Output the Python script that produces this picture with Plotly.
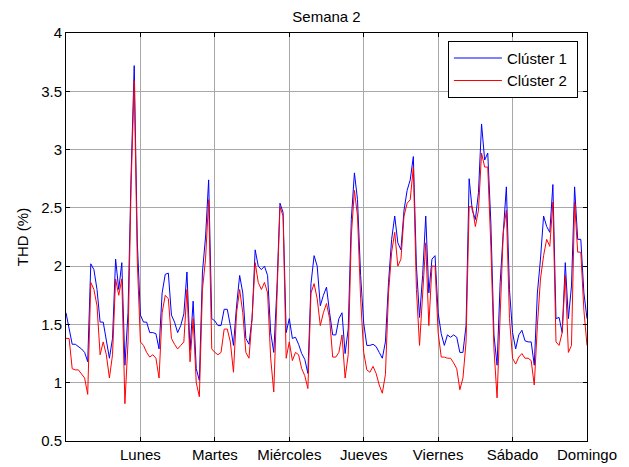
import numpy as np
import plotly.graph_objects as go

days = ["Lunes", "Martes", "Miércoles", "Jueves", "Viernes", "Sábado", "Domingo"]
day_ticks = [1, 2, 3, 4, 5, 6, 7]

cluster1 = [
    1.60, 1.45, 1.33, 1.33, 1.31, 1.29, 1.26, 1.18, 2.02, 1.97,
    1.80, 1.52, 1.52, 1.35, 1.21, 1.38, 2.06, 1.80, 2.03, 1.15,
    1.60, 2.80, 3.72, 2.20, 1.58, 1.52, 1.52, 1.43, 1.43, 1.42,
    1.29, 1.77, 1.93, 1.94, 1.58, 1.52, 1.43, 1.49, 1.59, 1.95,
    1.28, 1.70,
    1.12, 1.02, 1.95, 2.25, 2.74, 1.55, 1.53, 1.49, 1.49, 1.63,
    1.63, 1.49, 1.32, 1.66, 1.92, 1.77, 1.38, 1.33, 1.55, 2.14,
    2.00, 1.97, 2.00, 1.92, 1.43, 1.26, 1.80, 2.54, 2.46, 1.43,
    1.55, 1.38, 1.39, 1.33, 1.25, 1.20, 1.08, 1.85, 2.09, 2.00,
    1.66, 1.75,
    1.82, 1.60, 1.41, 1.41, 1.55, 1.60, 1.25, 1.46, 2.40, 2.80,
    2.57, 1.92, 1.51, 1.32, 1.32, 1.33, 1.31, 1.26, 1.21, 1.35,
    1.86, 2.23, 2.43, 2.20, 2.14, 2.48, 2.65, 2.74, 2.94, 2.00,
    1.56, 1.92, 2.43, 1.77, 2.06, 2.09, 1.60, 1.42, 1.32, 1.41,
    1.39, 1.41,
    1.39, 1.26, 1.26, 1.49, 2.75, 2.48, 2.40, 2.63, 3.22, 2.91,
    2.97, 2.37, 1.41, 1.15, 1.86, 2.29, 2.68, 1.80, 1.43, 1.29,
    1.41, 1.45, 1.36, 1.35, 1.35, 1.15, 1.77, 2.06, 2.43, 2.34,
    2.29, 2.70, 1.55, 1.56, 1.43, 2.03, 1.55, 1.83, 2.68, 2.23,
    2.23, 1.77, 1.55,
]

cluster2 = [
    1.38, 1.38, 1.12, 1.11, 1.11, 1.07, 1.04, 0.90, 1.86, 1.80,
    1.66, 1.24, 1.35, 1.24, 1.04, 1.24, 1.89, 1.75, 1.89, 0.82,
    1.35, 2.70, 3.59, 2.03, 1.35, 1.32, 1.26, 1.22, 1.24, 1.21,
    1.04, 1.60, 1.75, 1.72, 1.38, 1.33, 1.29, 1.32, 1.35, 1.80,
    1.18, 1.55,
    1.00, 0.88, 1.80, 2.06, 2.57, 1.29, 1.26, 1.24, 1.26, 1.46,
    1.46, 1.35, 1.09, 1.60, 1.80, 1.60, 1.26, 1.21, 1.55, 2.03,
    1.86, 1.80, 1.86, 1.77, 1.21, 0.92, 1.76, 2.51, 2.43, 1.21,
    1.35, 1.19, 1.26, 1.24, 1.12, 1.06, 0.95, 1.77, 1.85, 1.72,
    1.49, 1.60,
    1.68, 1.55, 1.22, 1.22, 1.26, 1.41, 1.04, 1.24, 2.26, 2.65,
    2.43, 1.72, 1.26, 1.11, 1.09, 1.14, 1.08, 0.98, 0.91, 1.07,
    1.77, 2.12, 2.29, 2.00, 2.06, 2.43, 2.54, 2.57, 2.85, 1.80,
    1.32, 1.72, 2.20, 1.49, 2.00, 2.00, 1.43, 1.22, 1.22, 1.21,
    1.21, 1.17,
    1.12, 0.94, 1.04, 1.35, 2.51, 2.51, 2.34, 2.48, 2.97, 2.85,
    2.85, 2.17, 1.29, 0.87, 1.60, 2.29, 2.48, 1.55, 1.21, 1.16,
    1.22, 1.25, 1.21, 1.21, 1.19, 0.98, 1.49, 1.89, 2.09, 2.23,
    2.17, 2.55, 1.35, 1.32, 1.43, 1.92, 1.26, 1.32, 2.55, 2.12,
    2.12, 1.62, 1.32,
]

hours = np.arange(len(cluster1))
x = hours / 24.0

font_family = "Liberation Sans, Arial, sans-serif"
pad = "\u00a0"

fig = go.Figure()
fig.add_trace(go.Scatter(x=x, y=cluster1, mode="lines", name="Clúster 1" + pad,
                         line=dict(color="#0000FF", width=1)))
fig.add_trace(go.Scatter(x=x, y=cluster2, mode="lines", name="Clúster 2" + pad,
                         line=dict(color="#FF0000", width=1)))

fig.update_layout(
    width=629, height=467,
    margin=dict(l=58, r=50, t=25, b=32),
    paper_bgcolor="white", plot_bgcolor="white",
    font=dict(family=font_family, size=15, color="black"),
    title=dict(text="Semana 2", x=0.5, xanchor="center", xref="paper",
               yref="container", y=0.993, yanchor="top",
               pad=dict(t=0, b=0), font=dict(size=15)),
    showlegend=True,
    legend=dict(x=0.733, y=0.981, xanchor="left", yanchor="top",
                bordercolor="black", borderwidth=1, bgcolor="white",
                font=dict(size=15), tracegroupgap=0, itemwidth=48),
)

fig.update_xaxes(
    range=[0, 7], tickvals=day_ticks, ticktext=days,
    showgrid=True, gridcolor="#a8a8a8", gridwidth=1,
    showline=True, linecolor="black", linewidth=1, mirror="allticks",
    ticks="inside", ticklen=4, tickcolor="black",
    zeroline=False, tickfont=dict(size=15),
)
fig.update_yaxes(
    range=[0.5, 4], tickvals=[0.5, 1, 1.5, 2, 2.5, 3, 3.5, 4],
    ticktext=["0.5", "1", "1.5", "2", "2.5", "3", "3.5", "4"],
    showgrid=True, gridcolor="#a8a8a8", gridwidth=1,
    showline=True, linecolor="black", linewidth=1, mirror="allticks",
    ticks="inside", ticklen=4, tickcolor="black",
    zeroline=False, tickfont=dict(size=15),
    title=dict(text="THD (%)", font=dict(size=15), standoff=8),
)

fig.write_html("out.html")
